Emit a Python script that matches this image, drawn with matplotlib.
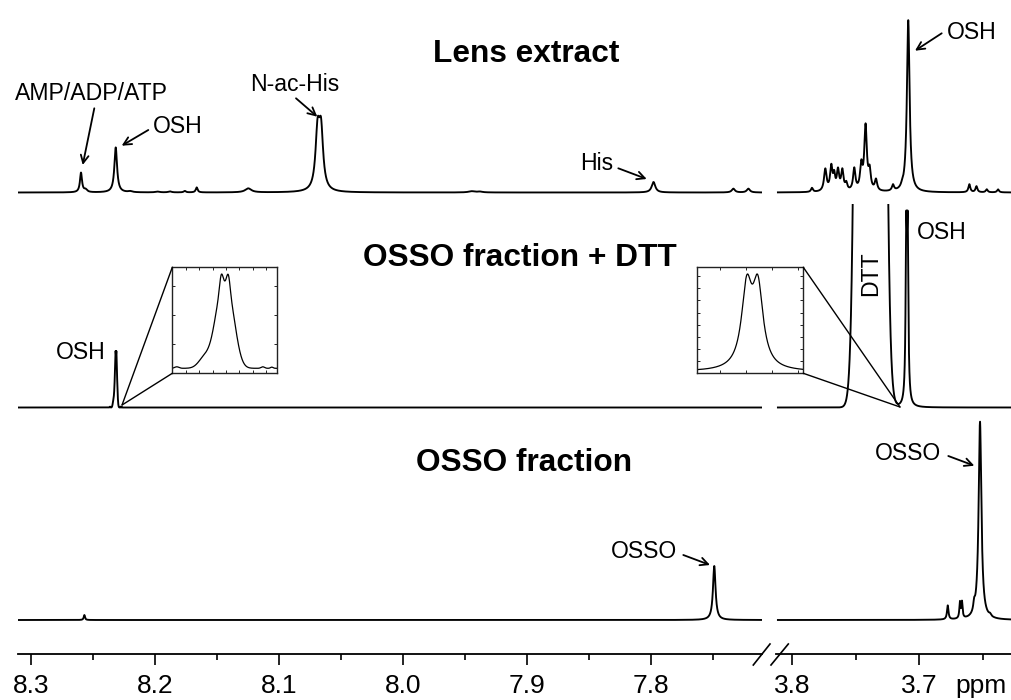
import numpy as np
import matplotlib
matplotlib.use("Agg")
import matplotlib.pyplot as plt
from matplotlib.patches import ConnectionPatch
from matplotlib.lines import Line2D
from matplotlib.transforms import Bbox, TransformedBbox

plt.rcParams['font.family'] = ['Liberation Sans', 'DejaVu Sans']

# ---------------- data: peak tables (ppm, height, FWHM [ppm], lineshape) ----------------
lens_left_peaks = [
    (8.2597, 19.5, 0.0020, 'L'),   # AMP/ADP/ATP
    (8.2560, 2.5, 0.0030, 'L'),
    (8.2317, 45.0, 0.0026, 'L'),   # OSH
    (8.2200, 1.0, 0.0040, 'L'),
    (8.1980, 0.8, 0.0040, 'L'),
    (8.1880, 1.0, 0.0030, 'L'),
    (8.1760, 1.5, 0.0020, 'L'),
    (8.1664, 5.0, 0.0018, 'L'),
    (8.1248, 4.0, 0.0060, 'L'),
    (8.0689, 56.0, 0.0040, 'L'),   # N-ac-His
    (8.0661, 56.0, 0.0040, 'L'),
    (7.9446, 1.2, 0.0060, 'L'),
    (7.9380, 0.8, 0.0050, 'L'),
    (7.7980, 10.5, 0.0035, 'L'),   # His
    (7.7336, 3.8, 0.0030, 'L'),
    (7.7215, 3.8, 0.0030, 'L'),
]
lens_right_peaks = [
    (3.7845, 4.0, 0.0018, 'L'),
    (3.7740, 22.0, 0.0024, 'L'),
    (3.7693, 24.0, 0.0022, 'L'),
    (3.7670, 14.0, 0.0018, 'L'),
    (3.7640, 20.0, 0.0022, 'L'),
    (3.7606, 20.0, 0.0022, 'L'),
    (3.7575, 7.0, 0.0020, 'L'),
    (3.7512, 22.0, 0.0022, 'L'),
    (3.7457, 24.0, 0.0022, 'L'),
    (3.7423, 64.0, 0.0024, 'L'),
    (3.7391, 18.0, 0.0022, 'L'),
    (3.7341, 11.0, 0.0022, 'L'),
    (3.7207, 6.0, 0.0020, 'L'),
    (3.7136, 2.0, 0.0020, 'L'),
    (3.7087, 172.0, 0.0025, 'L'),  # OSH
    (3.6606, 8.0, 0.0018, 'L'),
    (3.6550, 6.0, 0.0018, 'L'),
    (3.6469, 3.0, 0.0018, 'L'),
    (3.6380, 3.0, 0.0018, 'L'),
]
dtt_left_peaks = [
    (8.2320, 34.4, 0.0015, 'G'),   # OSH
    (8.2310, 34.4, 0.0015, 'G'),
    (8.23186, 8.6, 0.0004, 'G'),
    (8.23114, 8.6, 0.0004, 'G'),
    (8.2335, 6.6, 0.0014, 'G'),
    (8.2363, 0.9, 0.0005, 'G'),
    (8.2277, 0.9, 0.0004, 'G'),
    (8.2268, 0.7, 0.0003, 'G'),
]
dtt_right_peaks = [
    (3.7384, 8880.0, 0.0120, 'G'),  # DTT
    (3.71025, 156.8, 0.00125, 'L'), # OSH
    (3.70915, 156.8, 0.00125, 'L'),
]
osso_left_peaks = [
    (8.2570, 5.0, 0.0012, 'L'),
    (7.7490, 54.0, 0.0025, 'L'),   # OSSO
]
osso_right_peaks = [
    (3.6776, 14.0, 0.0014, 'L'),
    (3.6680, 16.0, 0.0011, 'L'),
    (3.6664, 16.0, 0.0011, 'L'),
    (3.6568, 8.0, 0.0016, 'L'),
    (3.6522, 198.0, 0.0026, 'L'),  # OSSO
    (3.6443, 2.0, 0.0020, 'L'),
]

trace_names = ['Lens extract', 'OSSO fraction + DTT', 'OSSO fraction']
trace_offsets = [461.5, 246.5, 34.0]

left_xlim = (8.3105, 7.7105)
right_xlim = (3.8128, 3.6278)
left_major = [8.3, 8.2, 8.1, 8.0, 7.9, 7.8]
left_major_labels = ['8.3', '8.2', '8.1', '8.0', '7.9', '7.8']
left_minor = [8.25, 8.15, 8.05, 7.95, 7.85, 7.75]
right_major = [3.8, 3.7]
right_major_labels = ['3.8', '3.7']
right_minor = [3.75, 3.65]


def spectrum(x, peaks):
    y = np.zeros_like(x)
    for c, h, w, shape in peaks:
        if shape == 'L':
            y += h / (1.0 + ((x - c) / (w / 2.0)) ** 2)
        else:
            y += h * np.exp(-4.0 * np.log(2.0) * (x - c) ** 2 / w ** 2)
    return y


W, H = 1011, 700
fig = plt.figure(figsize=(W / 100, H / 100), dpi=100)


def rect(x0, y0, x1, y1):
    return [x0 / W, 1 - y1 / H, (x1 - x0) / W, (y1 - y0) / H]


axL = fig.add_axes(rect(18, 0, 762, 654))
axR = fig.add_axes(rect(776, 0, 1011, 654))

for ax, xl, maj, lab, mnr in [(axL, left_xlim, left_major, left_major_labels, left_minor),
                              (axR, right_xlim, right_major, right_major_labels, right_minor)]:
    ax.set_xlim(*xl)
    ax.set_ylim(0, 654)
    for s in ('top', 'left', 'right'):
        ax.spines[s].set_visible(False)
    ax.spines['bottom'].set_linewidth(1.3)
    ax.yaxis.set_visible(False)
    ax.patch.set_visible(False)
    ax.set_xticks(maj)
    ax.set_xticklabels(lab)
    ax.set_xticks(mnr, minor=True)
    ax.tick_params(axis='x', which='major', direction='out', length=7.9, width=1.2,
                   pad=6.5, labelsize=19)
    ax.tick_params(axis='x', which='minor', direction='out', length=4.3, width=1.2)

xL = np.linspace(left_xlim[0], left_xlim[1], 40000)
xR = np.linspace(3.8113, right_xlim[1], 40000)

left_sets = [lens_left_peaks, dtt_left_peaks, osso_left_peaks]
right_sets = [lens_right_peaks, dtt_right_peaks, osso_right_peaks]
for pk, off in zip(left_sets, trace_offsets):
    axL.plot(xL, off + spectrum(xL, pk), color='k', lw=1.35)
for i, (pk, off) in enumerate(zip(right_sets, trace_offsets)):
    ln, = axR.plot(xR, off + spectrum(xR, pk), color='k', lw=1.35)
    if i == 1:
        ln.set_clip_box(TransformedBbox(Bbox([[0, 0], [1, 450 / 654]]), axR.transAxes))

# ---------------- insets ----------------
def make_inset(box, center, half, ylim, peaks, xt, yt):
    ins = fig.add_axes(rect(*box))
    xi = np.linspace(center + half, center - half, 3000)
    ins.plot(xi, spectrum(xi, peaks), color='k', lw=0.9)
    ins.set_xlim(center + half, center - half)
    ins.set_ylim(*ylim)
    ins.set_xticks(xt)
    ins.set_yticks(yt)
    ins.tick_params(which='both', direction='in', length=2.2, width=0.6,
                    top=True, right=True, labelbottom=False, labelleft=False)
    for s in ins.spines.values():
        s.set_linewidth(1.0)
        s.set_color('#222222')
    return ins

cL, hw = 8.2315, 0.00525
insL = make_inset((172.3, 267.3, 277.3, 373.3), cL, hw, (-3.0, 60.6), dtt_left_peaks,
                  [cL + hw - k * 0.00134 for k in range(1, 8)],
                  [-3.0 + 17.4 * k for k in range(1, 4)])
cR = 3.7099
insR = make_inset((697.3, 267.3, 803.3, 373.3), cR, hw, (-3.0, 210.5), dtt_right_peaks,
                  [cR + hw - p * 0.0001 for p in (22.7, 48.5, 74.3, 100.1)],
                  [210.5 - (8.7 + 12.2 * k) * 2.014 for k in range(0, 8)])

for ins, corners, ax, target in [(insL, [(0, 1), (0, 0)], axL, (8.2266, 249)),
                                 (insR, [(1, 1), (1, 0)], axR, (3.7152, 247))]:
    for c in corners:
        con = ConnectionPatch(xyA=c, coordsA=ins.transAxes, xyB=target, coordsB=ax.transData,
                              color='k', lw=1.0)
        fig.add_artist(con)

# ---------------- text ----------------
def ftext(x, y, s, **kw):
    fig.text(x / W, 1 - y / H, s, **kw)

ftext(526, 62, trace_names[0], fontsize=22.8, fontweight='bold', ha='center', va='baseline')
ftext(520, 266, trace_names[1], fontsize=22.8, fontweight='bold', ha='center', va='baseline')
ftext(524, 471, trace_names[2], fontsize=22.8, fontweight='bold', ha='center', va='baseline')

labels = [
    (15, 100, 'AMP/ADP/ATP'), (153, 133.3, 'OSH'), (250, 90.7, 'N-ac-His'),
    (580, 170, 'His'), (946.7, 39.3, 'OSH'), (56, 359.3, 'OSH'),
    (916.7, 239.3, 'OSH'), (610.7, 558.3, 'OSSO'), (875, 460, 'OSSO'),
]
for x, y, s in labels:
    ftext(x, y, s, fontsize=16.6, ha='left', va='baseline')
ftext(871, 274, 'DTT', fontsize=16.6, rotation=90, ha='center', va='center')
ftext(955, 693, 'ppm', fontsize=19, ha='left', va='baseline')

arrows = [
    ((94.3, 108.3), (82.7, 165)), ((148.3, 130), (121.7, 145.7)),
    ((296, 98.3), (317.3, 116.7)), ((618.3, 168.3), (646.7, 179)),
    ((941.7, 33.3), (915, 50.7)), ((683.3, 555), (710, 565)),
    ((948.3, 456), (974.3, 465.7)),
]
for (x0, y0), (x1, y1) in arrows:
    axL.annotate('', xy=(x1, H - y1), xycoords='figure pixels',
                 xytext=(x0, H - y0), textcoords='figure pixels', annotation_clip=False,
                 arrowprops=dict(arrowstyle='->', lw=1.3, color='k', shrinkA=0, shrinkB=0,
                                 mutation_scale=14))

# axis break marks
for xa, xb in [(753.3, 770.0), (771.0, 788.3)]:
    fig.add_artist(Line2D([xa / W, xb / W], [1 - 665 / H, 1 - 644 / H],
                          transform=fig.transFigure, color='k', lw=1.2))

fig.savefig('out.png', dpi=100)
